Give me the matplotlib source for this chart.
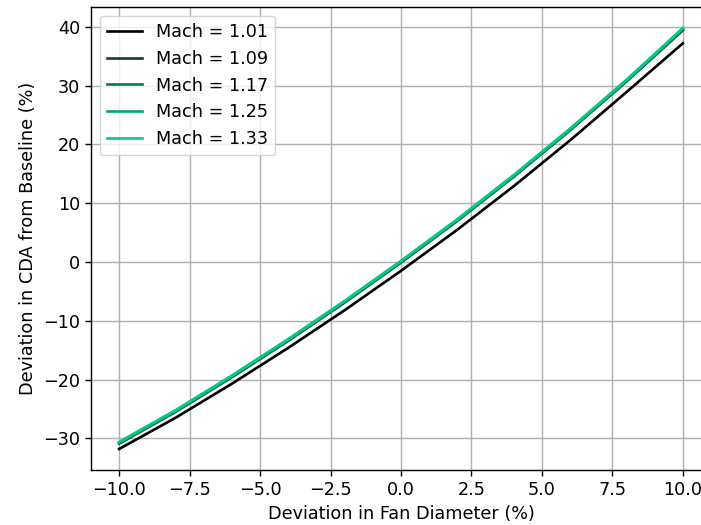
import matplotlib
matplotlib.use("Agg")
import matplotlib.pyplot as plt

# fan diameter deviation (%) and resulting CDA deviation (%) per Mach number
diam_dev = [-10, -8, -6, -4, -2, 0, 2, 4, 6, 8, 10]
mach_labels = ["Mach = 1.01", "Mach = 1.09", "Mach = 1.17", "Mach = 1.25", "Mach = 1.33"]
cda_101 = [-31.8, -26.5, -20.7, -14.6, -8.2, -1.5, 5.5, 12.9, 20.7, 28.9, 37.2]
cda_109 = [-30.9, -25.5, -19.6, -13.4, -6.9, -0.1, 7.0, 14.5, 22.4, 30.7, 39.4]
cda_117 = [-30.8, -25.4, -19.5, -13.3, -6.8, 0.0, 7.1, 14.6, 22.5, 30.8, 39.6]
cda_125 = [-30.7, -25.3, -19.4, -13.2, -6.7, 0.1, 7.2, 14.7, 22.6, 30.9, 39.7]
cda_133 = [-30.6, -25.2, -19.3, -13.1, -6.6, 0.2, 7.3, 14.8, 22.7, 31.0, 39.8]
series = [cda_101, cda_109, cda_117, cda_125, cda_133]
colors = ["#000000", "#173b2b", "#0a7a52", "#06a572", "#00cc88"]

s = 1.27
plt.rcParams.update({
    "font.size": 10 * s,
    "axes.linewidth": 0.8 * s,
    "grid.linewidth": 0.8 * s,
    "xtick.major.size": 3.5 * s,
    "ytick.major.size": 3.5 * s,
    "xtick.major.width": 0.8 * s,
    "ytick.major.width": 0.8 * s,
})

fig = plt.figure(figsize=(7.01, 5.25), dpi=100)
ax = fig.add_axes([91 / 701, 55 / 525, 620 / 701, 463 / 525])

for vals, lab, col in zip(series, mach_labels, colors):
    ax.plot(diam_dev, vals, color=col, lw=1.5 * s, label=lab)

ax.set_xlabel("Deviation in Fan Diameter (%)")
ax.set_ylabel("Deviation in CDA from Baseline (%)")
ax.grid(True)
ax.legend(loc="upper left")

fig.savefig("out.png", dpi=100)
